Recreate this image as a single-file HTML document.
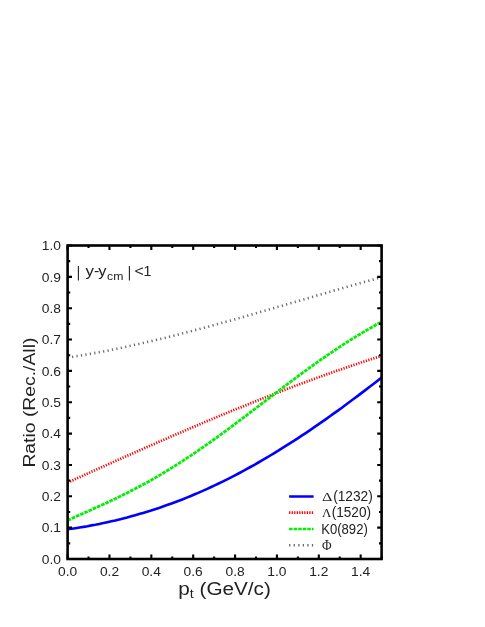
<!DOCTYPE html>
<html><head><meta charset="utf-8"><title>chart</title>
<style>
html,body{margin:0;padding:0;background:#fff;}
body{width:485px;height:627px;overflow:hidden;font-family:"Liberation Sans",sans-serif;}
svg{display:block;will-change:transform;}
text{font-family:"Liberation Sans",sans-serif;fill:#222;}
.ser{font-family:"Liberation Serif",serif;}
</style></head><body>
<svg width="485" height="627" viewBox="0 0 485 627">
<rect x="0" y="0" width="485" height="627" fill="#ffffff"/>

<defs><clipPath id="cp"><rect x="67.6" y="245.5" width="314.0" height="313.5"/></clipPath></defs>
<g clip-path="url(#cp)" fill="none">
<path d="M67.6,357.6 L71.6,357.0 L75.5,356.3 L79.5,355.7 L83.5,355.0 L87.5,354.3 L91.4,353.6 L95.4,352.9 L99.4,352.2 L103.4,351.4 L107.3,350.7 L111.3,349.9 L115.3,349.1 L119.3,348.3 L123.2,347.4 L127.2,346.6 L131.2,345.7 L135.2,344.8 L139.1,343.9 L143.1,343.0 L147.1,342.1 L151.1,341.2 L155.0,340.3 L159.0,339.3 L163.0,338.3 L167.0,337.4 L170.9,336.4 L174.9,335.4 L178.9,334.4 L182.9,333.3 L186.8,332.3 L190.8,331.3 L194.8,330.2 L198.8,329.2 L202.7,328.1 L206.7,327.1 L210.7,326.0 L214.7,324.9 L218.6,323.8 L222.6,322.7 L226.6,321.6 L230.6,320.5 L234.5,319.4 L238.5,318.2 L242.5,317.1 L246.5,316.0 L250.4,314.8 L254.4,313.7 L258.4,312.6 L262.4,311.4 L266.3,310.3 L270.3,309.1 L274.3,308.0 L278.3,306.8 L282.2,305.7 L286.2,304.5 L290.2,303.3 L294.2,302.2 L298.1,301.0 L302.1,299.9 L306.1,298.7 L310.1,297.5 L314.0,296.4 L318.0,295.2 L322.0,294.1 L326.0,292.9 L329.9,291.8 L333.9,290.6 L337.9,289.5 L341.9,288.4 L345.8,287.2 L349.8,286.1 L353.8,285.0 L357.8,283.9 L361.7,282.7 L365.7,281.6 L369.7,280.5 L373.7,279.4 L377.6,278.3 L381.6,277.3" stroke="#6a6a6a" stroke-width="2.6" stroke-dasharray="1.2 3.3"/>
<path d="M67.6,481.9 L71.6,480.1 L75.5,478.3 L79.5,476.5 L83.5,474.7 L87.5,472.9 L91.4,471.1 L95.4,469.3 L99.4,467.5 L103.4,465.8 L107.3,464.0 L111.3,462.2 L115.3,460.4 L119.3,458.7 L123.2,456.9 L127.2,455.1 L131.2,453.4 L135.2,451.6 L139.1,449.8 L143.1,448.1 L147.1,446.3 L151.1,444.6 L155.0,442.9 L159.0,441.1 L163.0,439.4 L167.0,437.7 L170.9,435.9 L174.9,434.2 L178.9,432.5 L182.9,430.8 L186.8,429.1 L190.8,427.4 L194.8,425.7 L198.8,424.0 L202.7,422.3 L206.7,420.6 L210.7,419.0 L214.7,417.3 L218.6,415.7 L222.6,414.0 L226.6,412.4 L230.6,410.7 L234.5,409.1 L238.5,407.5 L242.5,405.9 L246.5,404.3 L250.4,402.7 L254.4,401.1 L258.4,399.5 L262.4,397.9 L266.3,396.3 L270.3,394.8 L274.3,393.2 L278.3,391.7 L282.2,390.2 L286.2,388.6 L290.2,387.1 L294.2,385.6 L298.1,384.1 L302.1,382.6 L306.1,381.2 L310.1,379.7 L314.0,378.2 L318.0,376.8 L322.0,375.4 L326.0,373.9 L329.9,372.5 L333.9,371.1 L337.9,369.7 L341.9,368.4 L345.8,367.0 L349.8,365.6 L353.8,364.3 L357.8,363.0 L361.7,361.6 L365.7,360.3 L369.7,359.0 L373.7,357.7 L377.6,356.5 L381.6,355.2" transform="translate(0,0.7)" stroke="#ff0000" stroke-width="2.7" stroke-dasharray="1.2 1.42"/>
<path d="M67.6,520.4 L71.6,518.6 L75.5,516.8 L79.5,515.0 L83.5,513.2 L87.5,511.5 L91.4,509.7 L95.4,507.9 L99.4,506.1 L103.4,504.3 L107.3,502.5 L111.3,500.6 L115.3,498.7 L119.3,496.8 L123.2,494.8 L127.2,492.9 L131.2,490.8 L135.2,488.8 L139.1,486.7 L143.1,484.5 L147.1,482.4 L151.1,480.1 L155.0,477.9 L159.0,475.6 L163.0,473.2 L167.0,470.8 L170.9,468.4 L174.9,465.9 L178.9,463.4 L182.9,460.8 L186.8,458.2 L190.8,455.6 L194.8,452.9 L198.8,450.2 L202.7,447.4 L206.7,444.6 L210.7,441.8 L214.7,439.0 L218.6,436.1 L222.6,433.2 L226.6,430.3 L230.6,427.3 L234.5,424.4 L238.5,421.4 L242.5,418.4 L246.5,415.4 L250.4,412.3 L254.4,409.3 L258.4,406.3 L262.4,403.2 L266.3,400.2 L270.3,397.2 L274.3,394.1 L278.3,391.1 L282.2,388.1 L286.2,385.1 L290.2,382.1 L294.2,379.1 L298.1,376.2 L302.1,373.2 L306.1,370.3 L310.1,367.4 L314.0,364.6 L318.0,361.7 L322.0,358.9 L326.0,356.2 L329.9,353.5 L333.9,350.8 L337.9,348.1 L341.9,345.5 L345.8,342.9 L349.8,340.4 L353.8,337.9 L357.8,335.5 L361.7,333.1 L365.7,330.8 L369.7,328.5 L373.7,326.2 L377.6,324.0 L381.6,321.9" stroke="#00f000" stroke-width="2.8" stroke-dasharray="3.6 1.0"/>
<path d="M67.6,529.3 L71.6,528.8 L75.5,528.2 L79.5,527.5 L83.5,526.9 L87.5,526.2 L91.4,525.4 L95.4,524.7 L99.4,523.9 L103.4,523.1 L107.3,522.2 L111.3,521.3 L115.3,520.4 L119.3,519.4 L123.2,518.4 L127.2,517.4 L131.2,516.3 L135.2,515.2 L139.1,514.1 L143.1,512.9 L147.1,511.7 L151.1,510.5 L155.0,509.2 L159.0,507.9 L163.0,506.5 L167.0,505.1 L170.9,503.7 L174.9,502.2 L178.9,500.7 L182.9,499.2 L186.8,497.6 L190.8,496.0 L194.8,494.3 L198.8,492.6 L202.7,490.9 L206.7,489.1 L210.7,487.3 L214.7,485.4 L218.6,483.5 L222.6,481.6 L226.6,479.6 L230.6,477.6 L234.5,475.6 L238.5,473.5 L242.5,471.4 L246.5,469.2 L250.4,467.0 L254.4,464.8 L258.4,462.5 L262.4,460.2 L266.3,457.9 L270.3,455.5 L274.3,453.1 L278.3,450.7 L282.2,448.2 L286.2,445.7 L290.2,443.2 L294.2,440.7 L298.1,438.1 L302.1,435.4 L306.1,432.8 L310.1,430.1 L314.0,427.4 L318.0,424.6 L322.0,421.9 L326.0,419.1 L329.9,416.3 L333.9,413.4 L337.9,410.6 L341.9,407.7 L345.8,404.7 L349.8,401.8 L353.8,398.8 L357.8,395.9 L361.7,392.9 L365.7,389.9 L369.7,386.8 L373.7,383.8 L377.6,380.7 L381.6,377.6" stroke="#0000ff" stroke-width="2.6"/>
</g>
<path d="M67.60,559.0 v-4.4 M67.60,245.5 v4.4 M88.53,559.0 v-2.6 M88.53,245.5 v2.6 M109.47,559.0 v-4.4 M109.47,245.5 v4.4 M130.40,559.0 v-2.6 M130.40,245.5 v2.6 M151.33,559.0 v-4.4 M151.33,245.5 v4.4 M172.27,559.0 v-2.6 M172.27,245.5 v2.6 M193.20,559.0 v-4.4 M193.20,245.5 v4.4 M214.13,559.0 v-2.6 M214.13,245.5 v2.6 M235.07,559.0 v-4.4 M235.07,245.5 v4.4 M256.00,559.0 v-2.6 M256.00,245.5 v2.6 M276.93,559.0 v-4.4 M276.93,245.5 v4.4 M297.87,559.0 v-2.6 M297.87,245.5 v2.6 M318.80,559.0 v-4.4 M318.80,245.5 v4.4 M339.73,559.0 v-2.6 M339.73,245.5 v2.6 M360.67,559.0 v-4.4 M360.67,245.5 v4.4 M381.60,559.0 v-2.6 M381.60,245.5 v2.6 M67.6,559.00 h4.4 M381.6,559.00 h-4.4 M67.6,543.33 h2.6 M381.6,543.33 h-2.6 M67.6,527.65 h4.4 M381.6,527.65 h-4.4 M67.6,511.98 h2.6 M381.6,511.98 h-2.6 M67.6,496.30 h4.4 M381.6,496.30 h-4.4 M67.6,480.62 h2.6 M381.6,480.62 h-2.6 M67.6,464.95 h4.4 M381.6,464.95 h-4.4 M67.6,449.27 h2.6 M381.6,449.27 h-2.6 M67.6,433.60 h4.4 M381.6,433.60 h-4.4 M67.6,417.92 h2.6 M381.6,417.92 h-2.6 M67.6,402.25 h4.4 M381.6,402.25 h-4.4 M67.6,386.57 h2.6 M381.6,386.57 h-2.6 M67.6,370.90 h4.4 M381.6,370.90 h-4.4 M67.6,355.23 h2.6 M381.6,355.23 h-2.6 M67.6,339.55 h4.4 M381.6,339.55 h-4.4 M67.6,323.88 h2.6 M381.6,323.88 h-2.6 M67.6,308.20 h4.4 M381.6,308.20 h-4.4 M67.6,292.52 h2.6 M381.6,292.52 h-2.6 M67.6,276.85 h4.4 M381.6,276.85 h-4.4 M67.6,261.17 h2.6 M381.6,261.17 h-2.6 M67.6,245.50 h4.4 M381.6,245.50 h-4.4" stroke="#000" stroke-width="2.1" fill="none"/>
<rect x="67.6" y="245.5" width="314.0" height="313.5" fill="none" stroke="#000" stroke-width="2.6"/>
<text x="58.0" y="576" font-size="13" textLength="19.2" lengthAdjust="spacingAndGlyphs">0.0</text>
<text x="99.9" y="576" font-size="13" textLength="19.2" lengthAdjust="spacingAndGlyphs">0.2</text>
<text x="141.7" y="576" font-size="13" textLength="19.2" lengthAdjust="spacingAndGlyphs">0.4</text>
<text x="183.6" y="576" font-size="13" textLength="19.2" lengthAdjust="spacingAndGlyphs">0.6</text>
<text x="225.5" y="576" font-size="13" textLength="19.2" lengthAdjust="spacingAndGlyphs">0.8</text>
<text x="267.3" y="576" font-size="13" textLength="19.2" lengthAdjust="spacingAndGlyphs">1.0</text>
<text x="309.2" y="576" font-size="13" textLength="19.2" lengthAdjust="spacingAndGlyphs">1.2</text>
<text x="351.1" y="576" font-size="13" textLength="19.2" lengthAdjust="spacingAndGlyphs">1.4</text>
<text x="41.8" y="563.8" font-size="13" textLength="19.2" lengthAdjust="spacingAndGlyphs">0.0</text>
<text x="41.8" y="532.4" font-size="13" textLength="19.2" lengthAdjust="spacingAndGlyphs">0.1</text>
<text x="41.8" y="501.1" font-size="13" textLength="19.2" lengthAdjust="spacingAndGlyphs">0.2</text>
<text x="41.8" y="469.8" font-size="13" textLength="19.2" lengthAdjust="spacingAndGlyphs">0.3</text>
<text x="41.8" y="438.4" font-size="13" textLength="19.2" lengthAdjust="spacingAndGlyphs">0.4</text>
<text x="41.8" y="407.1" font-size="13" textLength="19.2" lengthAdjust="spacingAndGlyphs">0.5</text>
<text x="41.8" y="375.7" font-size="13" textLength="19.2" lengthAdjust="spacingAndGlyphs">0.6</text>
<text x="41.8" y="344.3" font-size="13" textLength="19.2" lengthAdjust="spacingAndGlyphs">0.7</text>
<text x="41.8" y="313.0" font-size="13" textLength="19.2" lengthAdjust="spacingAndGlyphs">0.8</text>
<text x="41.8" y="281.6" font-size="13" textLength="19.2" lengthAdjust="spacingAndGlyphs">0.9</text>
<text x="41.8" y="250.3" font-size="13" textLength="19.2" lengthAdjust="spacingAndGlyphs">1.0</text>
<text x="178.3" y="594.5" font-size="17.5" textLength="92.6" lengthAdjust="spacingAndGlyphs">p<tspan font-size="12" dy="3">t</tspan><tspan dy="-3"> (GeV/c)</tspan></text>
<text transform="translate(34.7,467.6) rotate(-90)" font-size="17.3" textLength="130" lengthAdjust="spacingAndGlyphs">Ratio (Rec./All)</text>
<g font-size="14.2">
<path d="M78.4,266 V280.6 M129.4,266 V280.6" stroke="#222" stroke-width="1.1" fill="none"/>
<text x="85.6" y="276" textLength="8.4" lengthAdjust="spacingAndGlyphs">y</text><text x="93.9" y="276" textLength="5.3" lengthAdjust="spacingAndGlyphs">-</text><text x="98.2" y="276" textLength="8.2" lengthAdjust="spacingAndGlyphs">y</text>
<text x="107.1" y="279.7" font-size="10.8" textLength="16.3" lengthAdjust="spacingAndGlyphs">cm</text>
<text x="134.5" y="276" textLength="9.2" lengthAdjust="spacingAndGlyphs">&lt;</text><text x="143.5" y="276">1</text>
</g>
<path d="M289.1,496.5 H313.6" stroke="#0000ff" stroke-width="2.5"/>
<path d="M289.1,512.6 H313.6" stroke="#ff0000" stroke-width="2.6" stroke-dasharray="1.3 1.22"/>
<path d="M289.1,529.0 H313.6" stroke="#00f000" stroke-width="2.5" stroke-dasharray="3.5 1.05"/>
<path d="M289.1,545.2 H313.6" stroke="#6a6a6a" stroke-width="2.6" stroke-dasharray="1.3 3.25"/>
<text x="322.0" y="501.2" font-size="13" class="ser" textLength="10.4" lengthAdjust="spacingAndGlyphs">&#916;</text><text x="333.2" y="500.8" font-size="14.2" textLength="39.6" lengthAdjust="spacingAndGlyphs">(1232)</text>
<text x="322.0" y="517.4" font-size="13" class="ser" textLength="9.4" lengthAdjust="spacingAndGlyphs">&#923;</text><text x="331.7" y="517.0" font-size="14.2" textLength="39.3" lengthAdjust="spacingAndGlyphs">(1520)</text>
<text x="321.2" y="533.5" font-size="14.2" textLength="46.6" lengthAdjust="spacingAndGlyphs">K0(892)</text>
<text x="321.9" y="550.0" font-size="15.6" class="ser" textLength="9.6" lengthAdjust="spacingAndGlyphs">&#934;</text>
</svg></body></html>
